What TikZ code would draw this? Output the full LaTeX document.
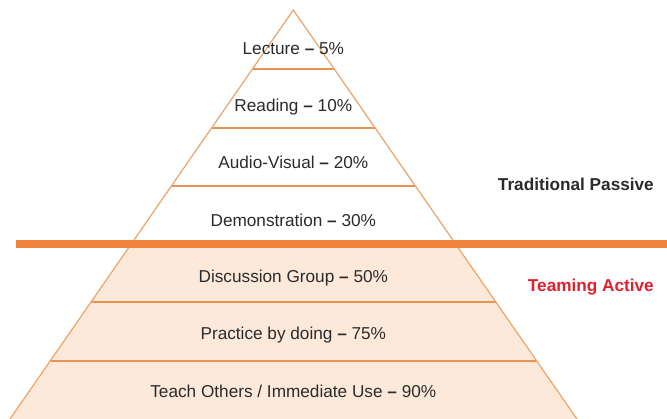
\documentclass[tikz,border=0pt]{standalone}
\usepackage{fontspec}
\setmainfont{Liberation Sans}
\usetikzlibrary{calc}
\definecolor{edgeor}{HTML}{EBA46A}
\definecolor{sepor}{HTML}{E89450}
\definecolor{baror}{HTML}{F0843A}
\definecolor{fillpeach}{HTML}{FCE9DA}
\definecolor{txtgray}{HTML}{2B2B2B}
\definecolor{activered}{HTML}{E0202E}
\begin{document}
\begin{tikzpicture}[x=1pt,y=-1pt,
  lvl/.style={font=\fontsize{17.2}{20}\selectfont, text=txtgray, anchor=base, inner sep=0pt},
  side/.style={font=\fontsize{17.2}{20}\selectfont\bfseries, anchor=base east, inner sep=0pt},
  sep/.style={draw=sepor, line width=1.5pt},
  outline/.style={draw=edgeor, line width=1.2pt, line join=miter}]
\useasboundingbox (0,0) rectangle (667,419);
\fill[white] (0,0) rectangle (667,419);
\coordinate (apex) at (293.3,10);
\coordinate (bl) at (10,419);
\coordinate (br) at (577,419);
% fill lower part
\fill[fillpeach] ($(apex)!{(244-10)/409}!(bl)$) -- ($(apex)!{(244-10)/409}!(br)$) -- (br) -- (bl) -- cycle;
% separators
\foreach \y in {69,128,186,302,361}{
  \draw[sep] ($(apex)!{(\y-10)/409}!(bl)$) -- ($(apex)!{(\y-10)/409}!(br)$);
}
% outline
\draw[outline] (bl) -- (apex) -- (br);
% bar
\fill[baror] (16,240) rectangle (667,248);
% labels
\node[lvl] (l1) at (293.3,55) {Lecture {\bfseries –} 5\%};
\node[lvl] (l2) at (293.3,112) {Reading {\bfseries –} 10\%};
\node[lvl] (l3) at (293.3,169) {Audio-Visual {\bfseries –} 20\%};
\node[lvl] (l4) at (293.3,227) {Demonstration {\bfseries –} 30\%};
\node[lvl] (l5) at (293.3,283) {Discussion Group {\bfseries –} 50\%};
\node[lvl] (l6) at (293.3,340) {Practice by doing {\bfseries –} 75\%};
\node[lvl] (l7) at (293.3,398) {Teach Others / Immediate Use {\bfseries –} 90\%};
\node[side, text=txtgray] (tp) at (654,191) {Traditional Passive};
\node[side, text=activered] (ta) at (654,291.5) {Teaming Active};
\end{tikzpicture}
\end{document}
